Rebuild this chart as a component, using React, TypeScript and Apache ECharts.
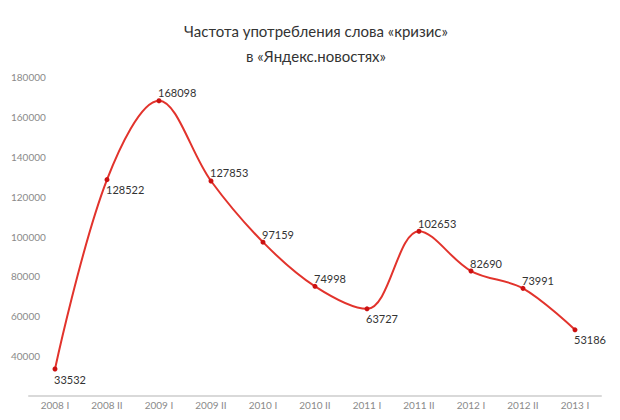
import React, { useEffect, useRef } from "react";
import * as echarts from "echarts";

const categories = ["2008 I", "2008 II", "2009 I", "2009 II", "2010 I", "2010 II", "2011 I", "2011 II", "2012 I", "2012 II", "2013 I"];
const values = [33532, 128522, 168098, 127853, 97159, 74998, 63727, 102653, 82690, 73991, 53186];
const labelBelow = [true, true, false, false, false, false, true, false, false, false, true];

const FONT = "Lato, 'Open Sans', sans-serif";

export default function App() {
  const ref = useRef<HTMLDivElement>(null);
  useEffect(() => {
    if (!ref.current) return;
    const chart = echarts.init(ref.current, undefined, { renderer: "svg" });
    chart.setOption({
      animation: false,
      backgroundColor: "#ffffff",
      title: {
        text: "Частота употребления слова «кризис»\nв «Яндекс.новостях»",
        left: 311,
        textAlign: "center",
        top: 13,
        textStyle: {
          fontFamily: FONT,
          fontWeight: "normal",
          fontSize: 15,
          lineHeight: 25,
          color: "#333333",
        },
      },
      grid: { left: 29, right: 19, top: 77, bottom: 24 },
      xAxis: {
        type: "category",
        data: categories,
        boundaryGap: true,
        axisLine: { lineStyle: { color: "#d9d9d9", width: 2 } },
        axisTick: { show: false },
        axisLabel: { color: "#8a8a8a", fontSize: 10, fontFamily: FONT, margin: 4, interval: 0 },
        splitLine: { show: false },
      },
      yAxis: {
        type: "value",
        min: 20000,
        max: 180000,
        interval: 20000,
        axisLine: { show: false },
        axisTick: { show: false },
        splitLine: { show: false },
        axisLabel: {
          showMinLabel: false,
          formatter: (v: number) => String(v),
          color: "#8a8a8a",
          fontSize: 10,
          fontFamily: FONT,
          align: "left",
          margin: 18,
          padding: [0, 0, 6, 0],
        },
      },
      series: [
        {
          type: "line",
          data: values.map((v, i) => ({
            value: v,
            label: {
              position: labelBelow[i] ? [1.5, 12.5] : [1.5, -5.5],
            },
          })),
          smooth: 0.35,
          symbol: "circle",
          symbolSize: 5,
          lineStyle: { color: "#e2332c", width: 2 },
          itemStyle: { color: "#cc1111" },
          label: {
            show: true,
            align: "left",
            verticalAlign: "middle",
            color: "#333333",
            fontSize: 11,
            fontFamily: FONT,
          },
        },
      ],
    });
    return () => chart.dispose();
  }, []);
  return <div ref={ref} style={{ width: 620, height: 420, position: "absolute", left: 0, top: 0 }} />;
}
